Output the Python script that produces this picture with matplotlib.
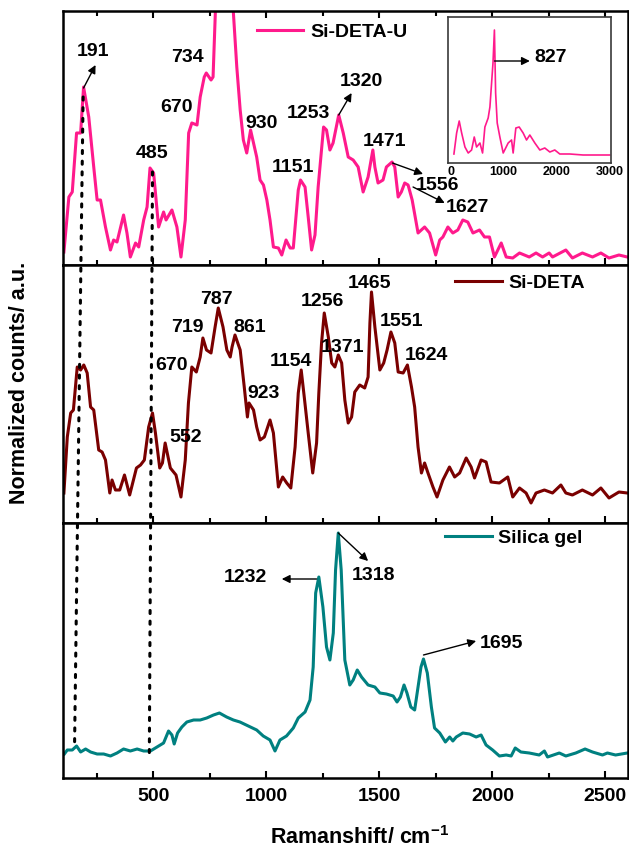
import matplotlib
matplotlib.use("Agg")
import matplotlib.pyplot as plt
from matplotlib.patches import ConnectionPatch
from matplotlib.ticker import MultipleLocator
import numpy as np

plt.rcParams['font.family'] = ['Liberation Sans', 'DejaVu Sans']
plt.rcParams['font.weight'] = 'bold'
plt.rcParams['mathtext.fontset'] = 'custom'
plt.rcParams['mathtext.bf'] = 'Liberation Sans:bold'
plt.rcParams['mathtext.rm'] = 'Liberation Sans:bold'
plt.rcParams['mathtext.default'] = 'bf'

# Si-DETA-U spectrum (Raman shift in cm-1, normalized counts)
si_deta_u_shift = [104, 126, 141, 160, 178, 191, 214, 236, 251, 266, 288, 310, 324, 339, 368, 383, 398,
                   421, 435, 457, 472, 485, 501, 523, 545, 556, 582, 604, 622, 641, 656, 670, 693, 707,
                   725, 734, 755, 764, 774, 795, 815, 840, 854, 869, 884, 898, 913, 930, 957, 972, 987,
                   1002, 1016, 1031, 1053, 1068, 1087, 1105, 1119, 1141, 1151, 1171, 1185, 1200, 1215,
                   1229, 1253, 1266, 1281, 1295, 1320, 1340, 1362, 1384, 1406, 1428, 1450, 1471, 1480,
                   1494, 1516, 1531, 1556, 1568, 1583, 1597, 1612, 1627, 1645, 1671, 1700, 1722, 1749,
                   1767, 1781, 1803, 1825, 1847, 1869, 1891, 1914, 1943, 1965, 1987, 2009, 2039, 2061,
                   2090, 2120, 2163, 2193, 2222, 2251, 2266, 2325, 2354, 2398, 2443, 2480, 2516, 2560, 2597]
si_deta_u_counts = [13, 68, 73, 132, 132, 178, 148, 98, 65, 65, 38, 15, 25, 23, 50, 32, 8,
                    22, 18, 45, 58, 97, 92, 38, 53, 45, 55, 38, 8, 45, 132, 142, 140, 168,
                    188, 192, 185, 188, 252, 360, 420, 330, 252, 198, 155, 125, 112, 135, 108, 85, 80,
                    65, 45, 18, 17, 10, 25, 17, 17, 75, 85, 78, 48, 15, 30,
                    78, 138, 135, 115, 122, 150, 132, 108, 105, 98, 73, 88, 115, 98,
                    82, 85, 98, 103, 98, 68, 73, 82, 80, 65, 32, 38, 32, 10,
                    25, 28, 38, 32, 35, 45, 43, 32, 35, 28, 28, 8, 22, 8,
                    7, 12, 8, 12, 8, 12, 8, 15, 7, 12, 8, 12, 7, 10, 8]

# Si-DETA-U full range (inset)
inset_shift = [62, 113, 162, 208, 270, 332, 396, 446, 490, 553, 603, 647, 709, 742, 800, 827, 850,
               880, 930, 993, 1087, 1151, 1181, 1232, 1295, 1370, 1434, 1496, 1591, 1685, 1779,
               1874, 1968, 2062, 2251, 2502, 2754, 3006]
inset_counts = [9, 30, 42, 30, 16, 10, 13, 26, 16, 20, 10, 36, 45, 56, 100, 133, 70,
                40, 26, 10, 20, 23, 10, 35, 36, 30, 23, 28, 20, 13, 15,
                11, 13, 9, 9, 8, 8, 8]

# Si-DETA spectrum
si_deta_shift = [104, 119, 134, 146, 163, 178, 192, 207, 222, 236, 258, 273, 288, 307, 317, 332, 351,
                 372, 395, 425, 443, 460, 479, 496, 509, 528, 540, 552, 575, 600, 622, 641, 655, 670,
                 690, 707, 719, 735, 755, 773, 787, 808, 825, 840, 848, 861, 884, 902, 916, 923, 943,
                 957, 972, 991, 1016, 1031, 1053, 1072, 1090, 1108, 1127, 1141, 1154, 1168, 1185,
                 1205, 1222, 1232, 1244, 1256, 1274, 1289, 1303, 1318, 1333, 1347, 1362, 1377, 1391,
                 1413, 1435, 1450, 1458, 1465, 1480, 1502, 1519, 1534, 1551, 1568, 1583, 1605, 1624,
                 1642, 1656, 1671, 1686, 1700, 1715, 1737, 1755, 1781, 1810, 1833, 1855, 1884, 1906,
                 1921, 1950, 1972, 1994, 2031, 2068, 2090, 2120, 2149, 2171, 2193, 2230, 2266, 2303,
                 2325, 2354, 2398, 2443, 2480, 2516, 2560, 2597]
si_deta_counts = [30, 86, 110, 113, 156, 153, 158, 150, 116, 113, 73, 71, 63, 30, 43, 33, 33,
                  48, 28, 55, 58, 63, 96, 110, 90, 55, 60, 80, 55, 48, 26, 63, 120, 156,
                  151, 166, 185, 173, 170, 196, 215, 196, 173, 166, 176, 188, 173, 136, 106, 120, 113,
                  96, 83, 86, 103, 90, 36, 46, 40, 35, 76, 130, 153, 125, 90,
                  50, 80, 130, 180, 210, 186, 160, 156, 168, 160, 123, 100, 106, 131,
                  138, 135, 146, 200, 231, 196, 153, 160, 173, 191, 180, 151, 150, 158,
                  136, 116, 76, 50, 60, 50, 36, 26, 43, 56, 46, 50, 65, 56,
                  45, 63, 61, 41, 40, 46, 26, 35, 30, 20, 30, 33, 30, 38,
                  30, 28, 33, 28, 35, 25, 31, 30]

# Silica gel spectrum
silica_shift = [106, 119, 141, 160, 178, 200, 222, 251, 280, 310, 339, 368, 398, 428, 457, 487, 516,
                545, 567, 582, 592, 607, 626, 648, 678, 707, 736, 766, 792, 824, 854, 883, 920, 957,
                986, 1016, 1038, 1060, 1089, 1119, 1141, 1171, 1193, 1207, 1218, 1232, 1250, 1266,
                1281, 1296, 1306, 1318, 1331, 1347, 1369, 1384, 1402, 1421, 1450, 1480, 1502, 1531,
                1561, 1578, 1593, 1609, 1622, 1639, 1656, 1671, 1684, 1695, 1712, 1730, 1744, 1767,
                1792, 1811, 1825, 1840, 1869, 1899, 1928, 1950, 1972, 2001, 2031, 2061, 2083, 2101,
                2126, 2163, 2207, 2230, 2244, 2296, 2325, 2369, 2410, 2443, 2487, 2509, 2545, 2597]
silica_counts = [24, 28, 28, 32, 26, 29, 26, 24, 24, 22, 25, 29, 27, 29, 27, 27, 31,
                 35, 47, 43, 34, 45, 51, 56, 58, 58, 60, 63, 65, 61, 58, 56, 52, 48,
                 42, 38, 27, 38, 42, 50, 60, 66, 78, 111, 185, 201, 171, 131,
                 118, 145, 208, 245, 208, 118, 93, 98, 108, 101, 93, 91, 85, 84,
                 82, 76, 81, 93, 85, 71, 68, 91, 111, 119, 105, 71, 50, 45,
                 36, 41, 37, 41, 45, 44, 41, 43, 33, 28, 22, 23, 22, 30,
                 26, 25, 23, 27, 21, 25, 22, 25, 29, 26, 23, 25, 23, 25]

# peak labels: (text, x, y)
top_labels = [('191', 233, 213), ('734', 649, 208), ('670', 603, 157), ('485', 496, 112),
              ('930', 980, 142), ('1253', 1186, 152), ('1151', 1116, 97), ('1320', 1421, 183),
              ('1471', 1522, 123), ('1556', 1755, 79), ('1627', 1888, 57)]
top_arrows = [((191, 177), (244, 200)), ((1320, 150), (1377, 172)),
              ((1558, 102), (1693, 91)), ((1649, 78), (1789, 62))]
mid_labels = [('719', 652, 195), ('787', 777, 223), ('861', 928, 195), ('670', 582, 158),
              ('923', 987, 130), ('552', 641, 86), ('1154', 1110, 161), ('1256', 1248, 221),
              ('1371', 1336, 176), ('1465', 1458, 240), ('1551', 1596, 201), ('1624', 1706, 168)]
bot_labels = [('1232', 909, 200), ('1318', 1474, 203), ('1695', 2039, 134)]
bot_arrows = [((1222, 199), (1068, 199)), ((1318, 245), (1450, 217)), ((1695, 123), (1928, 137))]

pink = '#ff1a8c'
maroon = '#7a0000'
teal = '#008080'

W, H = 629, 851
fig = plt.figure(figsize=(W / 100, H / 100), dpi=100)

def box(top, bottom, left=63, right=628):
    return [left / W, 1 - bottom / H, (right - left) / W, (bottom - top) / H]

ax1 = fig.add_axes(box(11, 265))
ax2 = fig.add_axes(box(265, 523))
ax3 = fig.add_axes(box(523, 778))

for ax, ymax in ((ax1, 254), (ax2, 258), (ax3, 255)):
    ax.set_xlim(100, 2600)
    ax.set_ylim(0, ymax)
    ax.set_yticks([])
    ax.xaxis.set_major_locator(MultipleLocator(500))
    ax.xaxis.set_minor_locator(MultipleLocator(250))
    ax.tick_params(axis='x', which='major', direction='in', length=5, width=1.5, labelsize=14, pad=7)
    ax.tick_params(axis='x', which='minor', direction='in', length=3.5, width=1.5)
    for s in ax.spines.values():
        s.set_linewidth(1.8)

ax1.tick_params(axis='x', which='both', top=True, labelbottom=False)
ax2.tick_params(axis='x', which='both', labelbottom=False)
for lab in ax3.get_xticklabels():
    lab.set_fontweight('bold')

ax1.plot(si_deta_u_shift, si_deta_u_counts, color=pink, lw=2.2, label='Si-DETA-U')
ax2.plot(si_deta_shift, si_deta_counts, color=maroon, lw=2.2, label='Si-DETA')
ax3.plot(silica_shift, silica_counts, color=teal, lw=2.2, label='Silica gel')

def put_labels(ax, labels, arrows=()):
    for t, x, y in labels:
        ax.text(x, y, t, ha='center', va='center', fontsize=14, fontweight='bold')
    for tail, head in arrows:
        ax.annotate('', xy=head, xytext=tail,
                    arrowprops=dict(arrowstyle='-|>', color='black', lw=1, mutation_scale=12,
                                    shrinkA=0, shrinkB=0))

put_labels(ax1, top_labels, top_arrows)
put_labels(ax2, mid_labels)
put_labels(ax3, bot_labels, bot_arrows)

legend_font = dict(size=14, weight='bold')
for ax, xa, ya in ((ax1, 0.343, 0.917), (ax2, 0.694, 0.931), (ax3, 0.676, 0.941)):
    ax.legend(loc='center left', bbox_to_anchor=(xa, ya), frameon=False, handlelength=2.4,
              handletextpad=0.35, borderpad=0, borderaxespad=0, prop=legend_font)

# dotted guides through the 191 and 485 bands
for (xa, ya), (xb, yb) in (((189, 168), (151, 30)), ((496, 93), (482, 25))):
    con = ConnectionPatch(xyA=(xa, ya), coordsA='data', axesA=ax1,
                          xyB=(xb, yb), coordsB='data', axesB=ax3,
                          color='black', lw=2.2, linestyle=(0, (1, 2.5)))
    fig.add_artist(con)

# inset with the full Si-DETA-U spectrum
axin = fig.add_axes(box(17, 163, 448, 611))
axin.plot(inset_shift, inset_counts, color=pink, lw=1.2)
axin.set_xlim(-50, 3030)
axin.set_ylim(0, 146)
axin.set_yticks([])
axin.set_xticks([0, 1000, 2000, 3000])
axin.tick_params(axis='x', length=0, labelsize=9, pad=2)
for lab in axin.get_xticklabels():
    lab.set_fontweight('bold')
for s in axin.spines.values():
    s.set_linewidth(1.2)
    s.set_color('#3a3a3a')
axin.annotate('', xy=(1496, 102), xytext=(827, 102),
              arrowprops=dict(arrowstyle='-|>', color='black', lw=1, mutation_scale=12,
                              shrinkA=0, shrinkB=0))
axin.text(1898, 106, '827', ha='center', va='center', fontsize=14, fontweight='bold')

fig.text(20 / W, 1 - 383 / H, 'Normalized counts/ a.u.', rotation=90, ha='center', va='center',
         fontsize=15.5, fontweight='bold')
ax3.set_xlabel(r'Ramanshift/ cm$^{-1}$', fontsize=15.5, fontweight='bold')
ax3.xaxis.label.set_verticalalignment('center')
ax3.xaxis.set_label_coords((360 - 63) / 565, (778 - 838) / 255)

fig.savefig('out.png', dpi=100)
